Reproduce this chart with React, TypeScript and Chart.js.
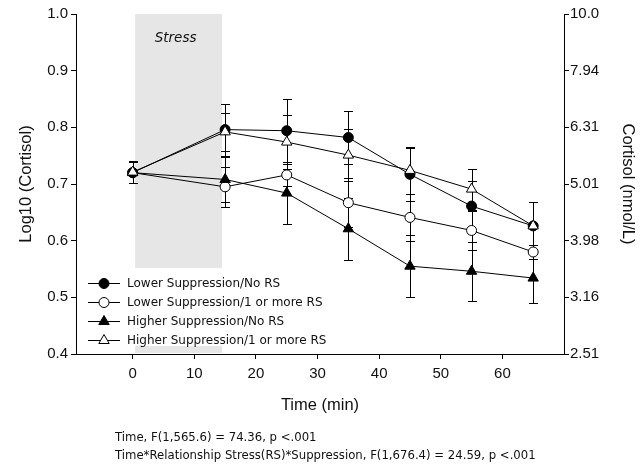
import React, { useEffect, useRef } from "react";
import { Chart, registerables } from "chart.js";

Chart.register(...registerables);

// ---- data ----
const timePoints = [0, 15, 25, 35, 45, 55, 65];
const seriesLabels = [
  "Lower Suppression/No RS",
  "Lower Suppression/1 or more RS",
  "Higher Suppression/No RS",
  "Higher Suppression/1 or more RS",
];
const lowerNoRS = [0.72, 0.796, 0.794, 0.782, 0.717, 0.661, 0.626];
const lowerRS = [0.72, 0.695, 0.716, 0.667, 0.641, 0.618, 0.58];
const higherNoRS = [0.72, 0.708, 0.684, 0.621, 0.555, 0.546, 0.534];
const higherRS = [0.721, 0.792, 0.774, 0.751, 0.724, 0.691, 0.626];

const lowerNoRSErr = [0.019, 0.046, 0.056, 0.047, 0.047, 0.044, 0.043];
const lowerRSErr = [0.019, 0.035, 0.02, 0.043, 0.041, 0.035, 0.012];
const higherNoRSErr = [0.019, 0.039, 0.054, 0.055, 0.055, 0.052, 0.044];
const higherRSErr = [0.019, 0.033, 0.048, 0.046, 0.041, 0.036, 0.043];

const xTickValues = [0, 10, 20, 30, 40, 50, 60];
const leftTickValues = [0.4, 0.5, 0.6, 0.7, 0.8, 0.9, 1.0];
const rightTickLabels = ["2.51", "3.16", "3.98", "5.01", "6.31", "7.94", "10.0"];
const stressWindow = [0.4, 14.5];
const stressLabel = "Stress";
const annotationLines = [
  "Time, F(1,565.6) = 74.36, p <.001",
  "Time*Relationship Stress(RS)*Suppression, F(1,676.4) = 24.59, p <.001",
];

const seriesValues = [lowerNoRS, lowerRS, higherNoRS, higherRS];
const seriesErrors = [lowerNoRSErr, lowerRSErr, higherNoRSErr, higherRSErr];
const seriesStyles = [
  { pointStyle: "circle", fill: "#000000", radius: 5 },
  { pointStyle: "circle", fill: "#ffffff", radius: 5 },
  { pointStyle: "triangle", fill: "#000000", radius: 6 },
  { pointStyle: "triangle", fill: "#ffffff", radius: 6 },
];
const drawOrder = [1, 3, 2, 0];

function drawMarker(ctx: CanvasRenderingContext2D, style: string, x: number, y: number, r: number, fill: string) {
  ctx.beginPath();
  if (style === "triangle") {
    let rad = 0;
    const step = (2 * Math.PI) / 3;
    ctx.moveTo(x + Math.sin(rad) * r, y - Math.cos(rad) * r);
    rad += step;
    ctx.lineTo(x + Math.sin(rad) * r, y - Math.cos(rad) * r);
    rad += step;
    ctx.lineTo(x + Math.sin(rad) * r, y - Math.cos(rad) * r);
    ctx.closePath();
  } else {
    ctx.arc(x, y, r, 0, Math.PI * 2);
  }
  ctx.fillStyle = fill;
  ctx.fill();
  ctx.strokeStyle = "#000";
  ctx.lineWidth = 1;
  ctx.stroke();
}

const shadingPlugin = {
  id: "stressShading",
  beforeDraw(chart: any) {
    const { ctx, chartArea, scales } = chart;
    const x0 = scales.x.getPixelForValue(stressWindow[0]);
    const x1 = scales.x.getPixelForValue(stressWindow[1]);
    ctx.save();
    ctx.fillStyle = "#e6e6e6";
    ctx.fillRect(x0, chartArea.top, x1 - x0, chartArea.bottom - chartArea.top - 1);
    ctx.restore();
  },
};

const errorBarPlugin = {
  id: "errorBars",
  beforeDatasetsDraw(chart: any) {
    const { ctx, scales } = chart;
    const xs = scales.x;
    const ys = scales.y;
    ctx.save();
    ctx.strokeStyle = "#000";
    ctx.lineWidth = 1;
    chart.data.datasets.forEach((ds: any) => {
      ds.data.forEach((pt: any, i: number) => {
        const e = ds.errors[i];
        const px = Math.round(xs.getPixelForValue(pt.x)) + 0.5;
        const yt = Math.round(ys.getPixelForValue(pt.y + e)) + 0.5;
        const yb = Math.round(ys.getPixelForValue(pt.y - e)) + 0.5;
        ctx.beginPath();
        ctx.moveTo(px, yt);
        ctx.lineTo(px, yb);
        ctx.moveTo(px - 4.5, yt);
        ctx.lineTo(px + 4.5, yt);
        ctx.moveTo(px - 4.5, yb);
        ctx.lineTo(px + 4.5, yb);
        ctx.stroke();
      });
    });
    ctx.restore();
  },
};

const overlayPlugin = {
  id: "overlay",
  afterDatasetsDraw(chart: any) {
    const { ctx, scales, chartArea } = chart;
    ctx.save();
    // Stress label
    const cx = (scales.x.getPixelForValue(stressWindow[0]) + scales.x.getPixelForValue(stressWindow[1])) / 2 - 3;
    ctx.font = "italic 13.5px 'DejaVu Sans'";
    ctx.fillStyle = "#111";
    ctx.textAlign = "center";
    ctx.textBaseline = "middle";
    ctx.fillText(stressLabel, cx, chartArea.top + 24);

    // Legend
    const lx = chartArea.left + 2;
    const ly = chartArea.top + 254;
    ctx.fillStyle = "#ffffff";
    ctx.fillRect(lx, ly, 250, 78);
    chart.data.datasets.forEach((ds: any, i: number) => {
      const rowY = ly + 15 + i * 19;
      ctx.strokeStyle = "#000";
      ctx.lineWidth = 1;
      ctx.beginPath();
      ctx.moveTo(lx + 10, rowY + 0.5);
      ctx.lineTo(lx + 42, rowY + 0.5);
      ctx.stroke();
      drawMarker(ctx, ds.pointStyle, lx + 26, rowY + 0.5, ds.pointRadius, ds.pointBackgroundColor);
      ctx.fillStyle = "#111";
      ctx.font = "12px 'DejaVu Sans'";
      ctx.textAlign = "left";
      ctx.textBaseline = "middle";
      ctx.fillText(ds.label, lx + 49, rowY + 1);
    });
    ctx.restore();
  },
};

export default function App() {
  const canvasRef = useRef<HTMLCanvasElement | null>(null);

  useEffect(() => {
    if (!canvasRef.current) return;
    Chart.defaults.font.family = "'Liberation Sans', Arial, sans-serif";
    Chart.defaults.color = "#111";

    const datasets = seriesLabels.map((label, i) => ({
      label,
      data: timePoints.map((t, j) => ({ x: t, y: seriesValues[i][j] })),
      errors: seriesErrors[i],
      borderColor: "#000",
      borderWidth: 1,
      pointStyle: seriesStyles[i].pointStyle,
      pointRadius: seriesStyles[i].radius,
      pointBackgroundColor: seriesStyles[i].fill,
      pointBorderColor: "#000",
      pointBorderWidth: 1,
      tension: 0,
      fill: false,
      order: drawOrder[i],
    }));

    const chart = new Chart(canvasRef.current, {
      type: "line",
      data: { datasets } as any,
      options: {
        animation: false,
        responsive: false,
        layout: { padding: { top: 14, left: 0, right: 0, bottom: 0 } },
        plugins: {
          legend: { display: false },
          tooltip: { enabled: false },
        },
        scales: {
          x: {
            type: "linear",
            position: "bottom",
            min: -9.2,
            max: 70,
            afterBuildTicks: (scale: any) => {
              scale.ticks = xTickValues.map((v) => ({ value: v }));
            },
            afterFit: (scale: any) => {
              scale.height = 120;
            },
            ticks: {
              font: { size: 15 },
              color: "#111",
              padding: 6,
              callback: (v: any) => String(v),
            },
            grid: { drawOnChartArea: false, drawTicks: true, tickLength: 5, color: "#000" },
            border: { color: "#000", width: 1 },
            title: {
              display: true,
              text: "Time (min)",
              font: { size: 16.5 },
              color: "#111",
              padding: { top: 0, bottom: 59 },
            },
          },
          y: {
            type: "linear",
            position: "left",
            min: 0.4,
            max: 1.0,
            afterBuildTicks: (scale: any) => {
              scale.ticks = leftTickValues.map((v) => ({ value: v }));
            },
            afterFit: (scale: any) => {
              scale.width = 76;
            },
            ticks: {
              font: { size: 15 },
              color: "#111",
              padding: 3,
              callback: (v: any) => Number(v).toFixed(1),
            },
            grid: { drawOnChartArea: false, drawTicks: true, tickLength: 5, color: "#000" },
            border: { color: "#000", width: 1 },
            title: {
              display: true,
              text: "Log10 (Cortisol)",
              font: { size: 16.5 },
              color: "#111",
              padding: { top: 17, bottom: 0 },
            },
          },
          y2: {
            type: "linear",
            position: "right",
            min: 0.4,
            max: 1.0,
            afterBuildTicks: (scale: any) => {
              scale.ticks = leftTickValues.map((v) => ({ value: v }));
            },
            afterFit: (scale: any) => {
              scale.width = 77;
            },
            ticks: {
              font: { size: 15 },
              color: "#111",
              padding: 1,
              callback: (_v: any, idx: number) => rightTickLabels[idx],
            },
            grid: { drawOnChartArea: false, drawTicks: true, tickLength: 5, color: "#000" },
            border: { color: "#000", width: 1 },
            title: {
              display: true,
              text: "Cortisol (nmol/L)",
              font: { size: 16.5 },
              color: "#111",
              padding: { top: 4, bottom: 0 },
            },
          },
        },
      } as any,
      plugins: [shadingPlugin, errorBarPlugin, overlayPlugin],
    });

    return () => chart.destroy();
  }, []);

  return (
    <div style={{ position: "fixed", left: 0, top: 0, width: 641, height: 474, background: "#fff" }}>
      <canvas ref={canvasRef} width={641} height={474} style={{ display: "block" }} />
      <div
        style={{
          position: "absolute",
          left: 115,
          top: 428,
          fontFamily: "'DejaVu Sans', sans-serif",
          fontSize: 11.7,
          lineHeight: "18px",
          color: "#111",
          whiteSpace: "nowrap",
        }}
      >
        {annotationLines.map((line, i) => (
          <div key={i}>{line}</div>
        ))}
      </div>
    </div>
  );
}
